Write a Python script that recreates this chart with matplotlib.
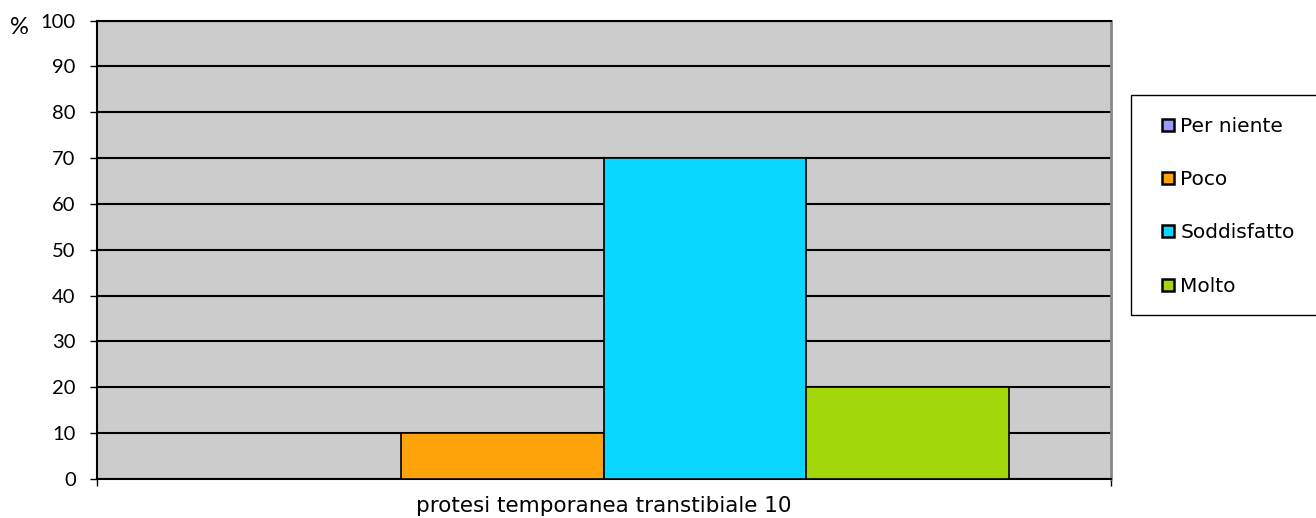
import matplotlib
matplotlib.use('Agg')
import matplotlib.pyplot as plt
from matplotlib.lines import Line2D
from matplotlib.patches import Rectangle

category = 'protesi temporanea transtibiale 10'
series = ['Per niente', 'Poco', 'Soddisfatto', 'Molto']
values = [0, 10, 70, 20]
colors = ['#9999FF', '#FFA30A', '#0AD7FF', '#A3D70A']
yticks = [0, 10, 20, 30, 40, 50, 60, 70, 80, 90, 100]

fig = plt.figure(figsize=(13.16, 5.18), dpi=100)
ax = fig.add_axes([96.5 / 1316, 39 / 518, 1014 / 1316, 458.5 / 518])
ax.set_facecolor('#CCCCCC')

# barre raggruppate nella singola categoria
width = 0.2
n = len(series)
for i, (name, v, c) in enumerate(zip(series, values, colors)):
    xpos = (i - (n - 1) / 2) * width
    ax.bar(xpos, v, width=width, color=c, edgecolor='black', linewidth=1.2,
           label=name, zorder=3)

ax.set_xlim(-0.5, 0.5)
ax.set_ylim(0, 100)
ax.set_yticks(yticks)
ax.set_yticklabels([str(t) for t in yticks], fontsize=14.5, fontfamily='Lato')
ax.yaxis.grid(True, color='black', linewidth=1.5, zorder=1)
ax.set_axisbelow(True)

ax.set_xticks([-0.5, 0.5])
ax.set_xticklabels([])
ax.set_xticks([0], minor=True)
ax.set_xticklabels([category], minor=True, fontsize=15.5, fontfamily='DejaVu Sans')
ax.tick_params(axis='x', which='minor', length=0, pad=12)
ax.tick_params(axis='x', which='major', length=5, width=1, direction='out')
ax.tick_params(axis='y', length=5, width=1, direction='out', pad=10)

ax.spines['left'].set_linewidth(1.5)
ax.spines['bottom'].set_linewidth(1.5)
ax.spines['top'].set_linewidth(1.5)
ax.spines['right'].set_color('#888888')
ax.spines['right'].set_linewidth(2)

fig.text(10 / 1316, 1 - 28 / 518, '%', fontsize=17, fontfamily='Lato', va='center')

# riquadro legenda (esce dal bordo destro)
fig.patches.append(Rectangle((1131 / 1316, 1 - 315 / 518), 220 / 1316, 220 / 518,
                             transform=fig.transFigure, facecolor='white',
                             edgecolor='black', linewidth=1, zorder=0))
handles = [Line2D([], [], linestyle='none', marker='s', markersize=8.5,
                  markerfacecolor=c, markeredgecolor='black', markeredgewidth=1.8)
           for c in colors]
fig.legend(handles, series, loc='upper left',
           bbox_to_anchor=(1162 / 1316, 1 - 117 / 518), frameon=False,
           fontsize=14.5, handlelength=0.6, handletextpad=0.3,
           labelspacing=1.7, borderaxespad=0, borderpad=0)

plt.savefig('out.png', dpi=100)
